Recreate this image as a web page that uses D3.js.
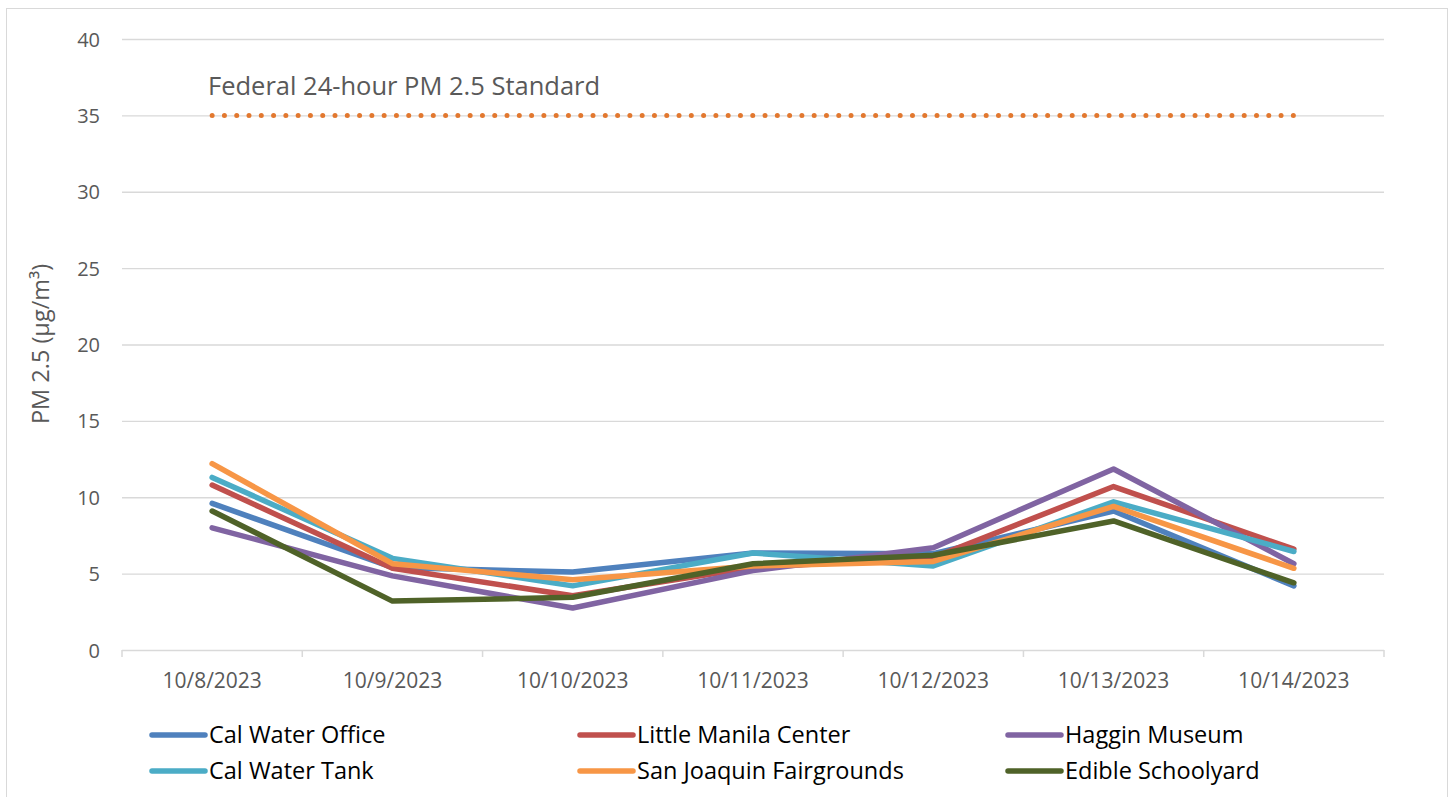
<!DOCTYPE html>
<html>
<head>
<meta charset="utf-8">
<script src="https://cdn.jsdelivr.net/npm/d3@7"></script>
<style>
  html, body { margin: 0; padding: 0; background: #fff; }
  svg { display: block; font-family: "Open Sans", "Noto Sans", sans-serif; }
</style>
</head>
<body>
<svg id="chart" width="1452" height="797"></svg>
<script>
const dates = ["10/8/2023", "10/9/2023", "10/10/2023", "10/11/2023", "10/12/2023", "10/13/2023", "10/14/2023"];
const yTicks = [0, 5, 10, 15, 20, 25, 30, 35, 40];
const seriesNames = ["Cal Water Office", "Little Manila Center", "Haggin Museum", "Cal Water Tank", "San Joaquin Fairgrounds", "Edible Schoolyard"];
const seriesColors = ["#4F81BD", "#C0504D", "#8064A2", "#4BACC6", "#F79646", "#4F6228"];
const calWaterOffice = [9.6, 5.4, 5.1, 6.35, 6.3, 9.1, 4.2];
const littleManila = [10.8, 5.35, 3.55, 5.4, 6.05, 10.7, 6.6];
const hagginMuseum = [8.0, 4.85, 2.75, 5.2, 6.7, 11.85, 5.65];
const calWaterTank = [11.3, 6.0, 4.2, 6.35, 5.5, 9.7, 6.45];
const sjFairgrounds = [12.2, 5.65, 4.6, 5.5, 5.8, 9.4, 5.35];
const edibleSchoolyard = [9.1, 3.2, 3.45, 5.65, 6.2, 8.45, 4.4];
const standardValues = [35, 35, 35, 35, 35, 35, 35];
const standardLabel = "Federal 24-hour PM 2.5 Standard";

const seriesValues = [calWaterOffice, littleManila, hagginMuseum, calWaterTank, sjFairgrounds, edibleSchoolyard];

(function () {
const svg = d3.select("#chart");
const pLeft = 122, pRight = 1384, pTop = 39, pBottom = 650;

// outer border
svg.append("rect").attr("x", 6.5).attr("y", 8.5).attr("width", 1441).attr("height", 800)
  .attr("fill", "none").attr("stroke", "#d9d9d9").attr("stroke-width", 1);

const x = d3.scaleBand().domain(dates).range([pLeft, pRight]).paddingInner(0).paddingOuter(0);
const y = d3.scaleLinear().domain([0, 40]).range([pBottom, pTop]);
const cx = d => x(d) + x.bandwidth() / 2;

// gridlines
svg.append("g").selectAll("line").data(yTicks.filter(t => t > 0)).join("line")
  .attr("x1", pLeft).attr("x2", pRight)
  .attr("y1", d => y(d) + 0.5).attr("y2", d => y(d) + 0.5)
  .attr("stroke", "#d9d9d9").attr("stroke-width", 1.3);

// y axis labels
const yAxis = d3.axisLeft(y).tickValues(yTicks).tickSize(0).tickPadding(0);
const yg = svg.append("g").attr("transform", `translate(100,0)`).call(yAxis);
yg.select(".domain").remove();
yg.selectAll("text").attr("font-size", 20).attr("fill", "#595959")
  .attr("font-family", "'Open Sans', sans-serif").attr("dy", "0.35em");

// x axis
const xAxis = d3.axisBottom(x).tickSize(7).tickPadding(16);
const xg = svg.append("g").attr("transform", `translate(0,${pBottom})`).call(xAxis);
xg.select(".domain").attr("stroke", "#d9d9d9").attr("stroke-width", 1.5)
  .attr("d", `M${pLeft},0.5H${pRight}`);
xg.selectAll(".tick line").remove();
xg.selectAll(".tick text").attr("font-size", 21).attr("fill", "#595959")
  .attr("font-family", "'Open Sans', sans-serif");
// category boundary tick marks
svg.append("g").selectAll("line").data(d3.range(dates.length + 1)).join("line")
  .attr("x1", i => pLeft + i * x.bandwidth()).attr("x2", i => pLeft + i * x.bandwidth())
  .attr("y1", pBottom).attr("y2", pBottom + 7)
  .attr("stroke", "#d9d9d9").attr("stroke-width", 1.5);

// y title
svg.append("text")
  .attr("transform", `translate(49,344) rotate(-90)`)
  .attr("text-anchor", "middle").attr("font-size", 23.5).attr("fill", "#595959")
  .text("PM 2.5 (µg/m³)");

const line = d3.line().x((d, i) => cx(dates[i])).y(d => y(d));

// standard line (dotted)
const stdPath = svg.append("path").datum(standardValues)
  .attr("d", line).attr("fill", "none")
  .attr("stroke", "#E2782F").attr("stroke-width", 5)
  .attr("stroke-linecap", "round");
const stdLen = stdPath.node().getTotalLength();
const nDots = Math.round(stdLen / 12.3);
const gap = (stdLen - 0.5) / nDots;
stdPath.attr("stroke-dasharray", `0 ${gap}`);

svg.append("text").attr("x", 208).attr("y", 95)
  .attr("font-size", 25.5).attr("fill", "#595959").text(standardLabel);

// series lines
svg.append("g").selectAll("path").data(seriesValues).join("path")
  .attr("d", line).attr("fill", "none")
  .attr("stroke", (d, i) => seriesColors[i]).attr("stroke-width", 5.5)
  .attr("stroke-linejoin", "round").attr("stroke-linecap", "round");

// legend
const colX = [152, 580, 1008];
const rowY = [735, 771];
const lg = svg.append("g").selectAll("g").data(seriesNames).join("g")
  .attr("transform", (d, i) => `translate(${colX[i % 3]},${rowY[Math.floor(i / 3)]})`);
lg.append("line").attr("x1", 0).attr("x2", 53).attr("y1", 0).attr("y2", 0)
  .attr("stroke", (d, i) => seriesColors[i]).attr("stroke-width", 5.5).attr("stroke-linecap", "round");
lg.append("text").attr("x", 57).attr("y", 0).attr("dy", "0.35em")
  .attr("font-size", 23.5).attr("fill", "#000").text(d => d);
})();
</script>
</body>
</html>
